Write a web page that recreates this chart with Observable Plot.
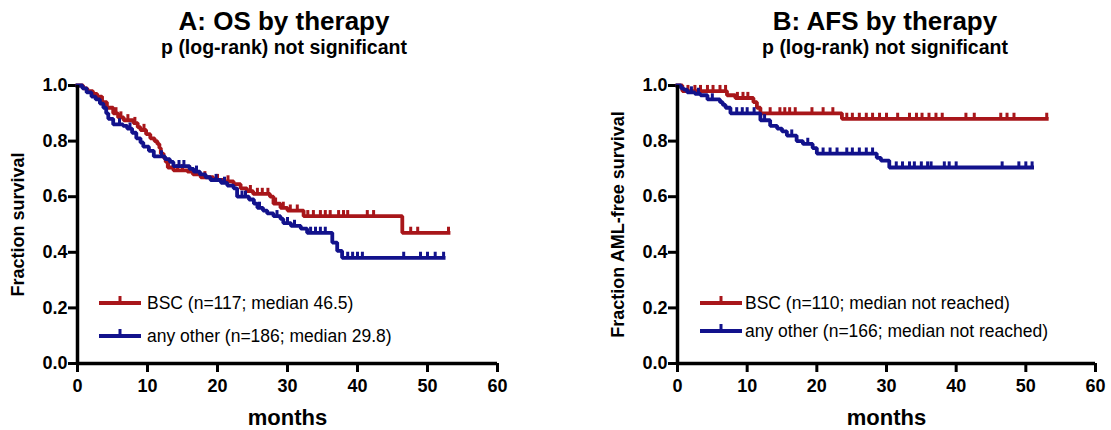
<!DOCTYPE html>
<html>
<head>
<meta charset="utf-8">
<script src="https://cdn.jsdelivr.net/npm/d3@7"></script>
<script src="https://cdn.jsdelivr.net/npm/@observablehq/plot@0.6"></script>
<style>
  body { margin: 0; background: white; }
  #wrap { position: relative; width: 1111px; height: 430px; font-family: "Liberation Sans", Arial, sans-serif; overflow: hidden; }
  .abs { position: absolute; white-space: nowrap; }
  .title { font-weight: bold; font-size: 26px; line-height: 0.9; text-align: center; width: 400px; }
  .sub { font-weight: bold; font-size: 19.5px; line-height: 0.9; text-align: center; width: 400px; }
  .leg { font-size: 17.5px; line-height: 1; }
</style>
</head>
<body>
<div id="wrap"></div>
<script>
// ---- data ----
const xTicks = [0, 10, 20, 30, 40, 50, 60];
const yTicks = [0, 0.2, 0.4, 0.6, 0.8, 1.0];

// Panel A: OS by therapy — step times (months) and survival after each drop
const osBscTimes = [0, 0.8, 1.4, 2.2, 2.8, 3.5, 4.2, 5.1, 5.8, 6.6, 8.0, 8.6, 9.0, 9.8, 10.4, 11.0, 11.4, 11.7, 11.9, 12.3, 12.6, 12.9, 13.7, 15.7, 16.5, 17.6, 19.4, 21.0, 22.3, 23.3, 24.2, 25.1, 27.5, 28.0, 29.0, 30.0, 32.3, 46.4];
const osBscSurv  = [1.0, 0.99, 0.98, 0.97, 0.96, 0.94, 0.92, 0.90, 0.885, 0.875, 0.865, 0.85, 0.84, 0.825, 0.81, 0.80, 0.79, 0.775, 0.755, 0.74, 0.725, 0.705, 0.695, 0.69, 0.68, 0.67, 0.66, 0.655, 0.645, 0.63, 0.62, 0.61, 0.60, 0.575, 0.56, 0.55, 0.53, 0.47];
const osBscEnd = 53.0;
const osBscCensored = [3.5, 5.5, 6.2, 7.2, 8.2, 9.5, 13.0, 14.3, 15.0, 16.0, 18.2, 20.0, 21.5, 24.7, 25.7, 26.4, 27.2, 28.3, 29.4, 30.4, 31.4, 32.9, 33.7, 34.7, 35.4, 36.1, 37.3, 38.0, 38.6, 41.4, 42.3, 47.6, 48.6, 53.0];

const osOtherTimes = [0, 0.7, 1.3, 2.0, 2.6, 3.2, 3.7, 4.1, 4.4, 5.1, 6.5, 7.1, 7.8, 8.4, 9.0, 9.4, 10.2, 10.9, 12.5, 13.2, 13.7, 16.0, 16.6, 17.5, 18.3, 19.0, 20.5, 21.4, 22.3, 22.8, 24.5, 25.2, 25.7, 26.5, 27.1, 28.0, 29.0, 29.4, 30.5, 31.9, 32.8, 36.4, 37.1, 37.8];
const osOtherSurv  = [1.0, 0.99, 0.975, 0.96, 0.95, 0.935, 0.92, 0.90, 0.88, 0.86, 0.855, 0.845, 0.83, 0.81, 0.795, 0.78, 0.765, 0.745, 0.735, 0.725, 0.71, 0.70, 0.69, 0.68, 0.67, 0.66, 0.65, 0.64, 0.63, 0.60, 0.59, 0.575, 0.56, 0.55, 0.54, 0.53, 0.52, 0.505, 0.495, 0.485, 0.47, 0.435, 0.405, 0.38];
const osOtherEnd = 52.3;
const osOtherCensored = [6.0, 7.5, 12.0, 14.5, 15.2, 17.0, 19.8, 21.0, 23.5, 24.0, 26.0, 28.5, 30.0, 31.0, 33.3, 34.0, 34.7, 35.4, 38.6, 39.3, 40.0, 40.7, 46.6, 49.0, 50.0, 51.1, 52.3];

// Panel B: AFS by therapy
const afsBscTimes = [0, 0.7, 7.1, 8.3, 10.9, 11.4, 11.9, 23.6];
const afsBscSurv  = [1.0, 0.98, 0.965, 0.955, 0.94, 0.92, 0.90, 0.88];
const afsBscEnd = 53.0;
const afsBscCensored = [1.5, 2.5, 3.3, 4.3, 5.1, 6.1, 6.9, 8.6, 9.4, 10.1, 13.3, 14.7, 15.4, 16.1, 16.9, 19.3, 20.9, 22.3, 24.3, 25.1, 26.1, 27.1, 28.0, 29.0, 30.0, 31.6, 33.3, 34.3, 35.1, 36.1, 37.1, 38.0, 41.4, 42.6, 46.4, 47.3, 48.3, 53.0];

const afsOtherTimes = [0, 0.5, 0.9, 1.4, 2.5, 3.3, 4.3, 6.1, 6.5, 6.9, 7.6, 11.9, 13.3, 14.3, 15.0, 15.7, 17.1, 18.0, 19.4, 20.0, 28.6, 29.2, 30.4];
const afsOtherSurv  = [1.0, 0.99, 0.985, 0.975, 0.97, 0.965, 0.95, 0.94, 0.93, 0.92, 0.90, 0.875, 0.855, 0.845, 0.835, 0.82, 0.80, 0.79, 0.775, 0.755, 0.74, 0.73, 0.705];
const afsOtherEnd = 50.9;
const afsOtherCensored = [2.0, 3.0, 5.0, 8.5, 9.3, 10.0, 11.0, 12.5, 16.4, 18.7, 20.9, 21.9, 22.9, 24.3, 25.1, 26.1, 27.1, 28.0, 31.4, 32.3, 33.3, 34.0, 35.0, 35.9, 36.4, 38.3, 39.0, 40.0, 46.6, 49.0, 50.0, 50.9];

const seriesNames = ["BSC", "any other"];
const legendA = ["BSC (n=117; median 46.5)", "any other (n=186; median 29.8)"];
const legendB = ["BSC (n=110; median not reached)", "any other (n=166; median not reached)"];
const titles = ["A: OS by therapy", "B: AFS by therapy"];
const subtitle = "p (log-rank) not significant";
const yLabels = ["Fraction survival", "Fraction AML-free survival"];
const xLabel = "months";

// ---- styles ----
const RED = "#A8161A";
const BLUE = "#12128C";
const FONT = '"Liberation Sans", Arial, sans-serif';

function curve(times, surv, end) {
  const pts = times.map((t, i) => ({t, s: surv[i]}));
  pts.push({t: end, s: surv[surv.length - 1]});
  return pts;
}
function survAt(times, surv, t) {
  let s = surv[0];
  for (let i = 0; i < times.length; i++) if (times[i] <= t) s = surv[i];
  return s;
}
function censorPts(times, surv, cens) {
  return cens.map(t => ({t, s: survAt(times, surv, t)}));
}

function panel(cfg) {
  const marks = [
    Plot.axisX({ticks: xTicks, tickSize: 9, tickPadding: 7, strokeWidth: 3, fontSize: 18, fontWeight: "bold", label: null, tickFormat: d => String(d)}),
    Plot.axisY({ticks: yTicks, tickSize: 9, tickPadding: 1, strokeWidth: 3, fontSize: 18, fontWeight: "bold", label: null, tickFormat: d3.format(".1f")}),
  ];
  cfg.series.forEach(sr => {
    marks.push(Plot.line(curve(sr.times, sr.surv, sr.end), {x: "t", y: "s", curve: "step-after", stroke: sr.color, strokeWidth: 3.8, strokeLinejoin: "miter", strokeLinecap: "square"}));
    marks.push(Plot.link(censorPts(sr.times, sr.surv, sr.cens), {x1: "t", x2: "t", y1: "s", y2: d => d.s + 0.022, stroke: sr.color, strokeWidth: 3}));
  });
  marks.push(Plot.ruleY([0], {stroke: "black", strokeWidth: 3.5}));
  marks.push(Plot.ruleX([0], {stroke: "black", strokeWidth: 3.5}));
  marks.push(Plot.text([cfg.ylabel], {frameAnchor: "left", dx: -59, rotate: -90, textAnchor: "middle", lineAnchor: "middle", fontSize: 18, fontWeight: "bold", fill: "black"}));
  marks.push(Plot.text([xLabel], {frameAnchor: "bottom", dy: 54, lineAnchor: "middle", fontSize: 22, fontWeight: "bold", fill: "black"}));
  return Plot.plot({
    width: cfg.width, height: 430,
    marginLeft: cfg.ml, marginRight: cfg.mr, marginTop: 85, marginBottom: 67,
    x: {domain: [0, 60]}, y: {domain: [0, 1]},
    style: {fontFamily: FONT, background: "white", color: "black", overflow: "visible"},
    marks
  });
}

const wrap = document.getElementById("wrap");
function place(el, left, top) {
  el.style.position = "absolute"; el.style.left = left + "px"; el.style.top = top + "px";
  wrap.appendChild(el);
}
function div(cls, text, left, top) {
  const d = document.createElement("div");
  d.className = "abs " + cls; d.textContent = text;
  d.style.left = left + "px"; d.style.top = top + "px";
  wrap.appendChild(d);
}
function legendItem(color, text, x0, ly, tx) {
  const ns = "http://www.w3.org/2000/svg";
  const s = document.createElementNS(ns, "svg");
  s.setAttribute("width", 44); s.setAttribute("height", 16);
  const l = document.createElementNS(ns, "line");
  l.setAttribute("x1", 1); l.setAttribute("x2", 43); l.setAttribute("y1", 11); l.setAttribute("y2", 11);
  l.setAttribute("stroke", color); l.setAttribute("stroke-width", 4);
  const t = document.createElementNS(ns, "line");
  t.setAttribute("x1", 22); t.setAttribute("x2", 22); t.setAttribute("y1", 11); t.setAttribute("y2", 4);
  t.setAttribute("stroke", color); t.setAttribute("stroke-width", 3);
  s.appendChild(l); s.appendChild(t);
  s.style.position = "absolute"; s.style.left = (x0 - 1) + "px"; s.style.top = (ly - 11) + "px";
  wrap.appendChild(s);
  div("leg", text, tx, ly + 7 - 14.8);
}

const pA = panel({
  width: 555, ml: 77, mr: 58, ylabel: yLabels[0],
  series: [
    {times: osBscTimes, surv: osBscSurv, end: osBscEnd, cens: osBscCensored, color: RED},
    {times: osOtherTimes, surv: osOtherSurv, end: osOtherEnd, cens: osOtherCensored, color: BLUE}
  ]
});
const pB = panel({
  width: 556, ml: 122, mr: 16, ylabel: yLabels[1],
  series: [
    {times: afsBscTimes, surv: afsBscSurv, end: afsBscEnd, cens: afsBscCensored, color: RED},
    {times: afsOtherTimes, surv: afsOtherSurv, end: afsOtherEnd, cens: afsOtherCensored, color: BLUE}
  ]
});
place(pA, 0, 0);
place(pB, 555, 0);

div("title", titles[0], 284 - 200, 10);
div("sub", subtitle, 284 - 200, 38.5);
div("title", titles[1], 885 - 200, 10);
div("sub", subtitle, 885 - 200, 38.5);

legendItem(RED, legendA[0], 99, 303, 147);
legendItem(BLUE, legendA[1], 99, 336, 147);
legendItem(RED, legendB[0], 700, 303, 745);
legendItem(BLUE, legendB[1], 700, 331, 745);
</script>
</body>
</html>
